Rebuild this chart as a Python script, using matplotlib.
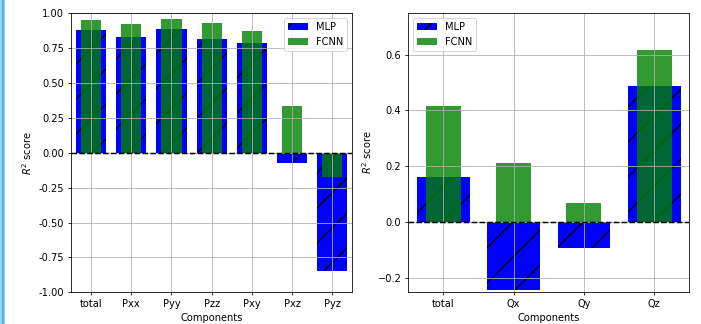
import matplotlib
matplotlib.use("Agg")
import matplotlib.pyplot as plt
import numpy as np
from matplotlib.patches import Rectangle

# ---- data ----
p_labels = ["total", "Pxx", "Pyy", "Pzz", "Pxy", "Pxz", "Pyz"]
p_mlp = [0.882, 0.827, 0.889, 0.815, 0.786, -0.076, -0.848]
p_fcnn = [0.951, 0.920, 0.956, 0.930, 0.872, 0.332, -0.177]

q_labels = ["total", "Qx", "Qy", "Qz"]
q_mlp = [0.162, -0.245, -0.092, 0.486]
q_fcnn = [0.416, 0.211, 0.068, 0.617]

p_yticks = [-1.00, -0.75, -0.50, -0.25, 0.00, 0.25, 0.50, 0.75, 1.00]
q_yticks = [-0.2, 0.0, 0.2, 0.4, 0.6]

# ---- scaling (dpi chosen so hatch spacing matches, sizes scaled) ----
DPI = 105
s = 71.5 / DPI
plt.rcParams.update({
    "font.family": ["DejaVu Sans"],
    "font.size": 10 * s,
    "axes.linewidth": 0.8 * s,
    "grid.linewidth": 0.8 * s,
    "xtick.major.size": 3.5 * s,
    "ytick.major.size": 3.5 * s,
    "xtick.major.width": 0.8 * s,
    "ytick.major.width": 0.8 * s,
    "xtick.major.pad": 3.5 * s,
    "ytick.major.pad": 3.5 * s,
    "axes.labelpad": 4 * s,
    "hatch.linewidth": 0.9,
    "lines.linewidth": 1.5 * s,
    "patch.linewidth": 1.0 * s,
})

fig = plt.figure(figsize=(701 / DPI, 324 / DPI), dpi=DPI)

ax1 = fig.add_axes([71 / 701, 1 - 292.3 / 324, 281.3 / 701, 279 / 324])
ax2 = fig.add_axes([408.3 / 701, 1 - 291.7 / 324, 281 / 701, 279 / 324])


def draw(ax, labels, mlp, fcnn, yticks, ylim, legend_loc):
    x = np.arange(len(labels))
    ax.bar(x, mlp, width=0.75, color="blue", hatch="/", linewidth=0, label="MLP")
    ax.bar(x, fcnn, width=0.5, color="green", alpha=0.8, linewidth=0, label="FCNN")
    ax.axhline(0, color="k", linestyle="--", linewidth=1.5 * s, zorder=3)
    ax.set_xticks(x)
    ax.set_xticklabels(labels)
    ax.set_yticks(yticks)
    ax.set_xlim(-0.5, len(labels) - 0.5)
    ax.set_ylim(*ylim)
    ax.grid(True)
    ax.set_xlabel("Components")
    ax.set_ylabel("$R^2$ score")
    ax.legend(loc=legend_loc)


draw(ax1, p_labels, p_mlp, p_fcnn, p_yticks, (-1.0, 1.0), "upper right")
ax1.yaxis.set_major_formatter(matplotlib.ticker.FormatStrFormatter("%.2f"))
draw(ax2, q_labels, q_mlp, q_fcnn, q_yticks, (-0.25, 0.75), "upper left")

# decorative left edge strip
fig.patches.append(Rectangle((0, 0), 5 / 701, 1, transform=fig.transFigure,
                             facecolor="#8fd3ee", edgecolor="none", zorder=0))
fig.patches.append(Rectangle((2 / 701, 0), 1.5 / 701, 1, transform=fig.transFigure,
                             facecolor="#4fb3dc", edgecolor="none", zorder=0))

fig.savefig("out.png", dpi=DPI)
